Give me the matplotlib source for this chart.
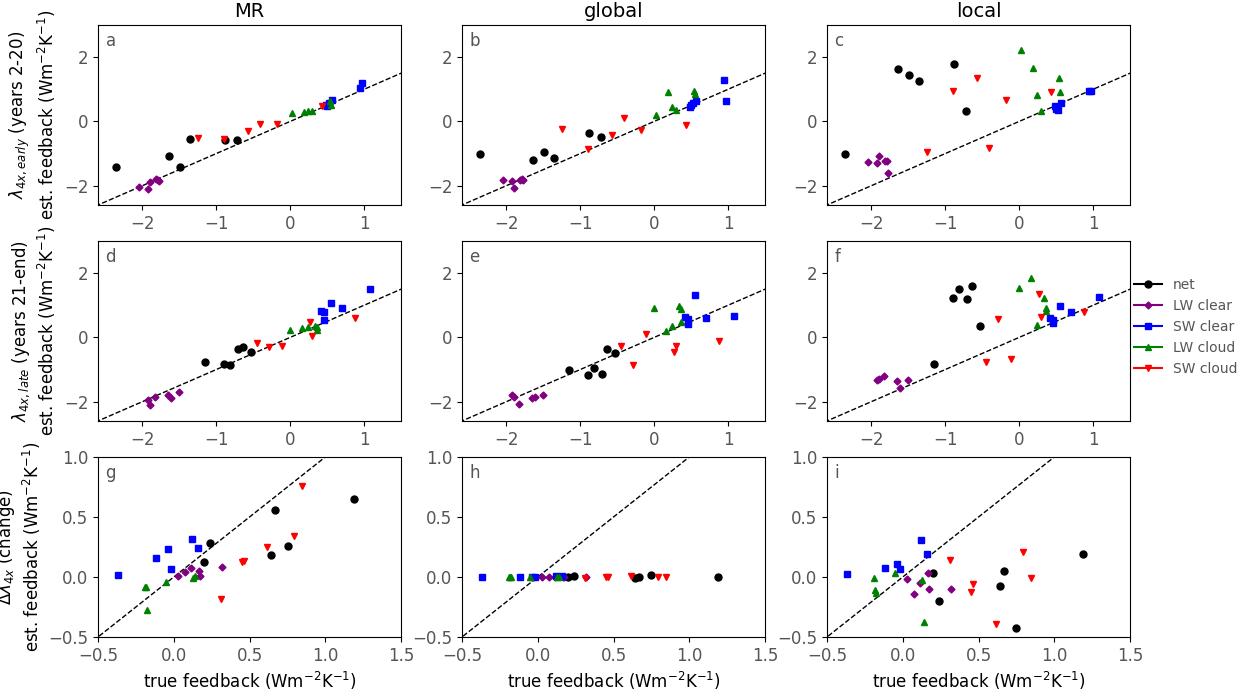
import numpy as np
import matplotlib
matplotlib.use('Agg')
import matplotlib.pyplot as plt
from matplotlib.lines import Line2D

# category order: net, LW clear, SW clear, LW cloud, SW cloud
names = ['net', 'LW clear', 'SW clear', 'LW cloud', 'SW cloud']
colors = ['black', 'purple', 'blue', 'green', 'red']
markers = ['o', 'D', 's', '^', 'v']
msizes = [5, 3.5, 4.5, 5, 5]

# true feedback, years 2-20 (row 1)
x_early = [[-2.35, -1.64, -1.49, -1.35, -0.88, -0.72],
           [-2.04, -1.93, -1.90, -1.82, -1.79, -1.77],
           [0.48, 0.50, 0.52, 0.56, 0.94, 0.97],
           [0.02, 0.19, 0.24, 0.30, 0.54, 0.555],
           [-1.25, -0.90, -0.575, -0.415, -0.175, 0.43]]
# true feedback, years 21-end (row 2)
x_late = [[-1.15, -0.89, -0.815, -0.71, -0.64, -0.53],
          [-1.93, -1.90, -1.83, -1.655, -1.61, -1.51],
          [0.42, 0.455, 0.46, 0.555, 0.705, 1.075],
          [0.0, 0.16, 0.24, 0.34, 0.355, 0.365],
          [-0.45, -0.285, -0.11, 0.27, 0.29, 0.87]]
# true change (row 3)
x_change = [[0.196, 0.242, 0.64, 0.666, 0.75, 1.19],
            [0.03, 0.077, 0.114, 0.165, 0.171, 0.319],
            [-0.37, -0.118, -0.035, -0.02, 0.117, 0.158],
            [-0.19, -0.185, -0.178, -0.05, 0.128, 0.14],
            [0.313, 0.45, 0.46, 0.615, 0.795, 0.845]]

# estimated feedback per panel
y_a = [[-1.43, -1.09, -1.42, -0.55, -0.59, -0.57],
       [-2.05, -2.10, -1.89, -1.80, -1.83, -1.86],
       [0.50, 0.47, 0.56, 0.67, 1.04, 1.18],
       [0.27, 0.29, 0.33, 0.33, 0.62, 0.52],
       [-0.52, -0.55, -0.29, -0.08, -0.07, 0.49]]
y_b = [[-1.01, -1.20, -0.95, -1.14, -0.37, -0.47],
       [-1.81, -1.84, -2.08, -1.83, -1.80, -1.83],
       [0.46, 0.50, 0.56, 0.62, 1.30, 0.64],
       [0.19, 0.90, 0.46, 0.34, 0.96, 0.86],
       [-0.24, -0.87, -0.41, 0.11, -0.27, -0.10]]
y_c = [[-1.01, 1.63, 1.44, 1.27, 1.79, 0.32],
       [-1.27, -1.28, -1.08, -1.24, -1.22, -1.59],
       [0.49, 0.40, 0.34, 0.56, 0.94, 0.96],
       [2.22, 1.65, 0.83, 0.33, 1.35, 0.90],
       [-0.96, 0.95, 1.35, -0.83, 0.68, 0.90]]
y_d = [[-0.78, -0.82, -0.86, -0.36, -0.31, -0.45],
       [-1.96, -2.09, -1.85, -1.78, -1.88, -1.71],
       [0.83, 0.78, 0.55, 1.06, 0.92, 1.49],
       [0.23, 0.30, 0.31, 0.36, 0.32, 0.22],
       [-0.19, -0.31, -0.28, 0.47, 0.05, 0.61]]
y_e = [[-1.03, -1.18, -0.95, -1.14, -0.36, -0.48],
       [-1.80, -1.84, -2.07, -1.90, -1.85, -1.79],
       [0.64, 0.57, 0.42, 1.31, 0.59, 0.65],
       [0.92, 0.21, 0.34, 0.98, 0.89, 0.47],
       [-0.26, -0.87, 0.09, -0.44, -0.26, -0.12]]
y_f = [[-0.82, 1.21, 1.49, 1.20, 1.61, 0.36],
       [-1.33, -1.30, -1.21, -1.35, -1.56, -1.33],
       [0.61, 0.54, 0.46, 0.96, 0.80, 1.26],
       [1.55, 1.84, 0.37, 1.22, 0.91, 0.83],
       [-0.76, 0.56, -0.68, 1.34, 0.62, 0.79]]
y_g = [[0.125, 0.28, 0.18, 0.56, 0.26, 0.65],
       [0.011, 0.039, 0.078, 0.053, 0.011, 0.086],
       [0.019, 0.161, 0.236, 0.067, 0.319, 0.244],
       [-0.083, -0.08, -0.278, -0.042, -0.012, 0.008],
       [-0.186, 0.128, 0.133, 0.25, 0.339, 0.758]]
y_h = [[0.0, 0.01, -0.01, 0.0, 0.017, 0.0],
       [0.0, 0.0, 0.0, 0.0, 0.0, 0.0],
       [0.0, 0.0, 0.0, 0.0, 0.01, 0.01],
       [0.0, 0.0, 0.0, 0.0, 0.0, 0.0],
       [-0.006, 0.0, 0.0, 0.01, 0.0, 0.0]]
y_i = [[0.033, -0.20, -0.072, 0.047, -0.425, 0.194],
       [-0.014, -0.144, -0.053, 0.033, -0.097, -0.10],
       [0.028, 0.078, 0.108, 0.067, 0.311, 0.194],
       [-0.006, -0.108, -0.13, 0.033, -0.028, -0.378],
       [0.142, -0.125, -0.058, -0.392, 0.208, -0.008]]

col_titles = ['MR', 'global', 'local']
letters = ['a', 'b', 'c', 'd', 'e', 'f', 'g', 'h', 'i']
row_ylabels = ['$\\lambda_{4x,early}$ (years 2-20)\nest. feedback (Wm$^{-2}$K$^{-1}$)',
               '$\\lambda_{4x,late}$ (years 21-end)\nest. feedback (Wm$^{-2}$K$^{-1}$)',
               '$\\Delta\\lambda_{4x}$ (change)\nest. feedback (Wm$^{-2}$K$^{-1}$)']

tick_col = '#555555'
plt.rcParams['font.family'] = 'DejaVu Sans'

fig = plt.figure(figsize=(12.53, 6.9), dpi=100)
lefts = [0.0782, 0.3687, 0.660]
bottoms = [0.7029, 0.3899, 0.0768]
w, h = 0.242, 0.261

xs = [x_early, x_late, x_change]
ys = [[y_a, y_b, y_c], [y_d, y_e, y_f], [y_g, y_h, y_i]]

for r in range(3):
    for c in range(3):
        ax = fig.add_axes([lefts[c], bottoms[r], w, h])
        if r < 2:
            lim_x, lim_y = (-2.6, 1.5), (-2.6, 3.0)
        else:
            lim_x, lim_y = (-0.5, 1.5), (-0.5, 1.0)
        ax.plot([-3, 3], [-3, 3], 'k--', lw=1, zorder=1)
        for k in range(5):
            ax.plot(xs[r][k], ys[r][c][k], linestyle='none', marker=markers[k],
                    color=colors[k], ms=msizes[k], zorder=3)
        ax.set_xlim(lim_x)
        ax.set_ylim(lim_y)
        if r < 2:
            ax.set_xticks([-2, -1, 0, 1])
            ax.set_yticks([-2, 0, 2])
        else:
            ax.set_xticks([-0.5, 0, 0.5, 1.0, 1.5])
            ax.set_yticks([-0.5, 0, 0.5, 1.0])
        ax.tick_params(labelsize=12, labelcolor=tick_col)
        ax.text(0.025, 0.96, letters[r * 3 + c], transform=ax.transAxes,
                ha='left', va='top', fontsize=12, color=tick_col)
        if r == 0:
            ax.set_title(col_titles[c], fontsize=14)
        if c == 0:
            ax.set_ylabel(row_ylabels[r], fontsize=12)
        if r == 2:
            ax.set_xlabel('true feedback (Wm$^{-2}$K$^{-1}$)', fontsize=12)

handles = [Line2D([0], [0], color=colors[k], marker=markers[k], ms=msizes[k])
           for k in range(5)]
leg = fig.legend(handles, names, loc='center left', bbox_to_anchor=(0.905, 0.526),
                 frameon=False, fontsize=10, borderpad=0, borderaxespad=0)
for t in leg.get_texts():
    t.set_color(tick_col)

plt.savefig('out.png', dpi=100)
